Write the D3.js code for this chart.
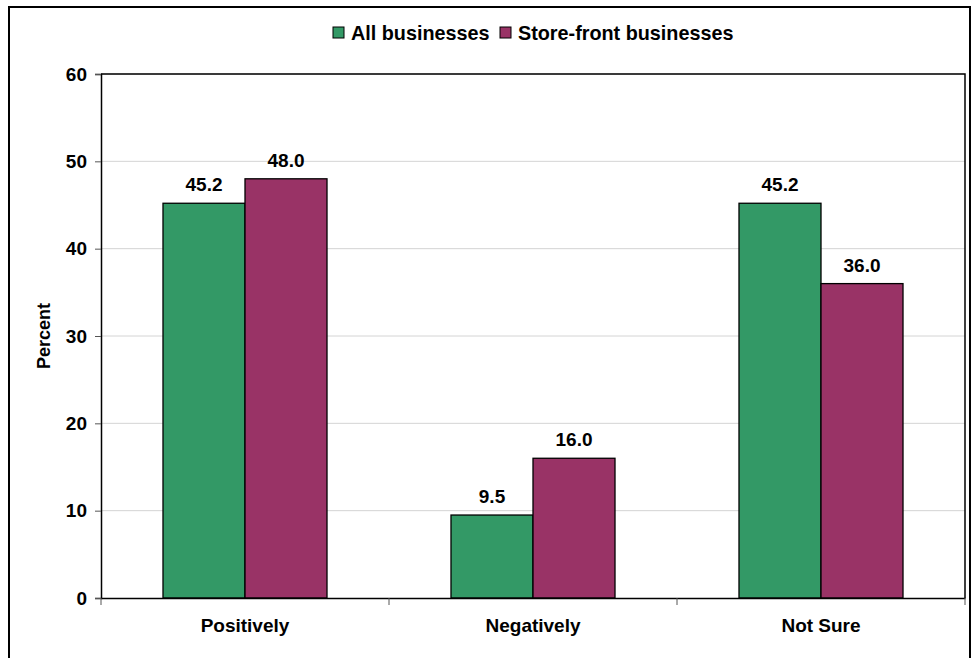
<!DOCTYPE html>
<html>
<head>
<meta charset="utf-8">
<script src="https://cdn.jsdelivr.net/npm/d3@7"></script>
<style>
  html, body { margin: 0; padding: 0; background: #fff; }
  svg { display: block; font-family: "Liberation Sans", Arial, sans-serif; font-weight: bold; }
</style>
</head>
<body>
<svg id="chart" width="972" height="658"></svg>
<script>
// Survey responses by type of business
const categories = ["Positively", "Negatively", "Not Sure"];
const seriesNames = ["All businesses", "Store-front businesses"];
const allBusinesses = [45.2, 9.5, 45.2];
const storeFront = [48.0, 16.0, 36.0];
const yTicks = [0, 10, 20, 30, 40, 50, 60];
const seriesColors = ["#339966", "#993366"];

const svg = d3.select("#chart");
const plot = { left: 101, top: 74, right: 965, bottom: 598 };
const fontSize = 19;

// Outer frame
svg.append("path")
  .attr("d", "M9,658 V7 H970 V658")
  .attr("fill", "none").attr("stroke", "#000").attr("stroke-width", 2);

const x = d3.scaleBand().domain(categories).range([plot.left, plot.right]);
const xs = d3.scaleBand().domain(d3.range(seriesNames.length))
  .range([0, x.bandwidth()]).paddingInner(0).paddingOuter(0.756);
const y = d3.scaleLinear().domain([0, 60]).range([plot.bottom, plot.top]);

// Gridlines
svg.append("g").selectAll("line").data(yTicks.filter(t => t > 0)).join("line")
  .attr("x1", plot.left).attr("x2", plot.right)
  .attr("y1", d => y(d)).attr("y2", d => y(d))
  .attr("stroke", "#d4d4d4").attr("stroke-width", 1);

// Plot border (right and top)
svg.append("path")
  .attr("d", `M${plot.left},${plot.top} H${plot.right} V${plot.bottom}`)
  .attr("fill", "none").attr("stroke", "#000").attr("stroke-width", 1.5);

// Bars
const rows = categories.map((c, i) => ({ cat: c, vals: [allBusinesses[i], storeFront[i]] }));
const groups = svg.append("g").selectAll("g").data(rows).join("g")
  .attr("transform", d => `translate(${x(d.cat)},0)`);

groups.selectAll("rect").data(d => d.vals.map((v, k) => ({ v, k }))).join("rect")
  .attr("x", d => xs(d.k))
  .attr("width", xs.bandwidth())
  .attr("y", d => y(d.v))
  .attr("height", d => y(0) - y(d.v))
  .attr("fill", d => seriesColors[d.k])
  .attr("stroke", "#000").attr("stroke-width", 1.3);

groups.selectAll("text").data(d => d.vals.map((v, k) => ({ v, k }))).join("text")
  .attr("x", d => xs(d.k) + xs.bandwidth() / 2)
  .attr("y", d => y(d.v) - 12)
  .attr("text-anchor", "middle")
  .attr("font-size", fontSize)
  .text(d => d.v.toFixed(1));

// Y axis
const yAxis = svg.append("g").attr("transform", `translate(${plot.left},0)`)
  .call(d3.axisLeft(y).tickValues(yTicks).tickSize(6).tickPadding(8));
yAxis.select(".domain").attr("stroke", "#000").attr("stroke-width", 1.5);
yAxis.selectAll(".tick line").attr("stroke", "#555");
yAxis.selectAll(".tick text").attr("font-size", fontSize).attr("font-family", null).attr("fill", "#000");

// X axis
const xAxis = svg.append("g").attr("transform", `translate(0,${plot.bottom})`)
  .call(d3.axisBottom(x).tickSize(0).tickPadding(21));
xAxis.select(".domain").attr("stroke", "#000").attr("stroke-width", 1.5);
xAxis.selectAll(".tick text").attr("font-size", fontSize).attr("font-family", null).attr("fill", "#000");
svg.append("g").selectAll("line")
  .data(categories.map(c => x(c)).concat([plot.right]))
  .join("line")
  .attr("x1", d => d).attr("x2", d => d)
  .attr("y1", plot.bottom).attr("y2", plot.bottom + 7)
  .attr("stroke", "#555");

// Y axis title
svg.append("text")
  .attr("transform", `translate(50,${(plot.top + plot.bottom) / 2}) rotate(-90)`)
  .attr("text-anchor", "middle")
  .attr("font-size", 18)
  .text("Percent");

// Legend
const legend = svg.append("g");
const legendItems = [
  { name: seriesNames[0], color: seriesColors[0], x: 333 },
  { name: seriesNames[1], color: seriesColors[1], x: 500 }
];
legendItems.forEach(item => {
  legend.append("rect")
    .attr("x", item.x).attr("y", 27).attr("width", 11).attr("height", 11)
    .attr("fill", item.color).attr("stroke", "#000").attr("stroke-width", 1);
  legend.append("text")
    .attr("x", item.x + 18).attr("y", 40)
    .attr("font-size", 19.8)
    .text(item.name);
});
</script>
</body>
</html>
